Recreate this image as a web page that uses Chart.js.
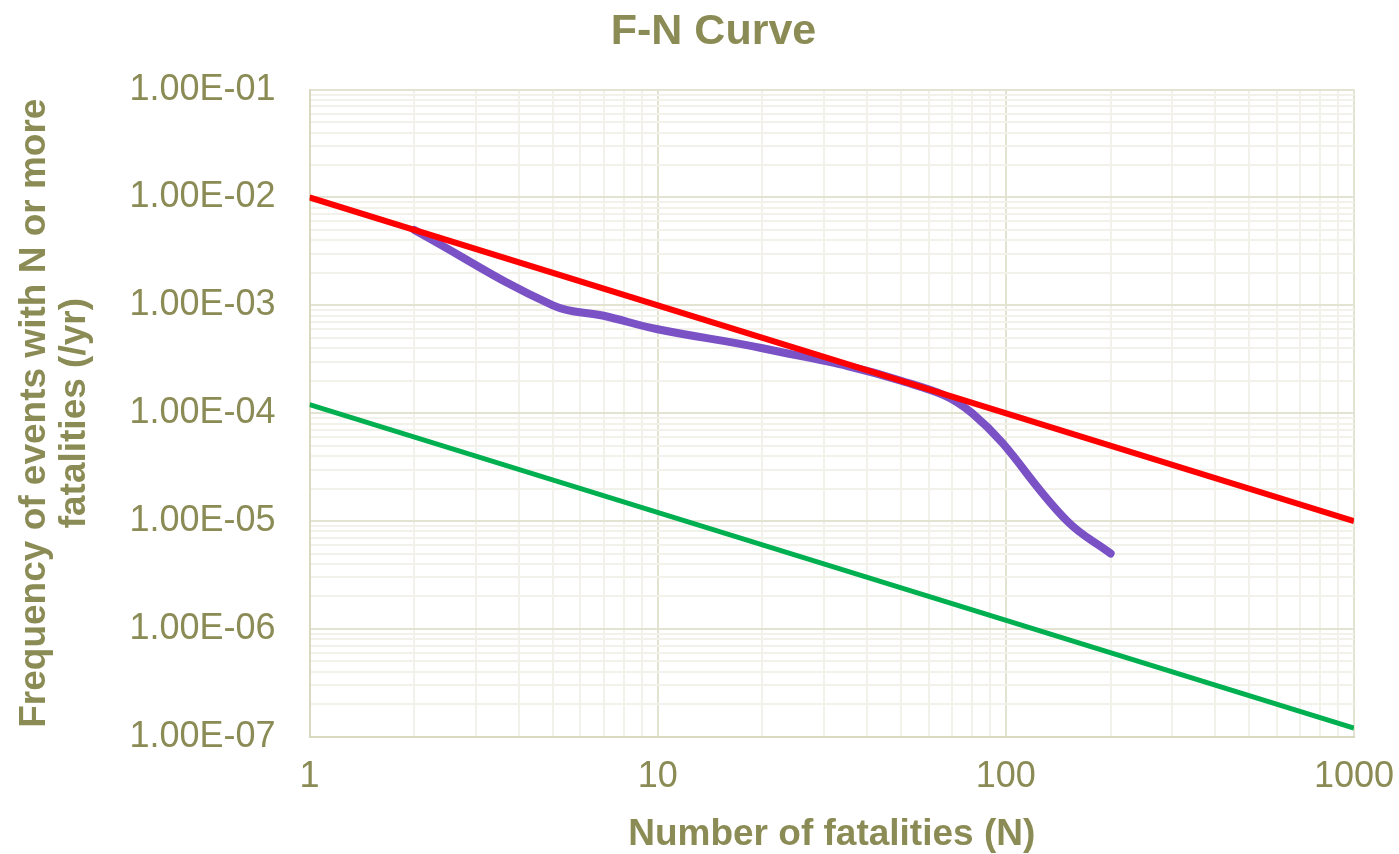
<!DOCTYPE html>
<html>
<head>
<meta charset="utf-8">
<title>F-N Curve</title>
<script src="https://cdn.jsdelivr.net/npm/chart.js@4.4.1/dist/chart.umd.min.js"></script>
<style>
    html, body { margin: 0; padding: 0; background: #fff; overflow: hidden; }
    #wrap { width: 1413px; height: 854px; position: relative; }
</style>
</head>
<body>
<div id="wrap"><canvas id="fnChart"></canvas></div>
<script>
// F-N curve (frequency of N or more fatalities per year)
const fnN    = [2, 5, 7, 10, 20, 50, 80, 150, 200];
const fnFreq = [5e-3, 1e-3, 8e-4, 6e-4, 4e-4, 2e-4, 1e-4, 1e-5, 5e-6];

// criterion lines
const limitN     = [1, 1000];
const upperLimit = [1e-2, 1e-5];
const lowerLimit = [1.2e-4, 1.2e-7];

// axis ticks
const xMajor = [1, 10, 100, 1000];
const xTickLabels = ['1', '10', '100', '1000'];
const yMajor = [1e-7, 1e-6, 1e-5, 1e-4, 1e-3, 1e-2, 1e-1];
const yTickLabels = ['1.00E-07', '1.00E-06', '1.00E-05', '1.00E-04', '1.00E-03', '1.00E-02', '1.00E-01'];

const TEXT = '#8b8b55';
const FONT = '"Liberation Sans", Arial, sans-serif';

function withMinors(majors) {
    const out = [];
    majors.forEach((m, i) => {
        out.push({ value: m, major: true });
        if (i < majors.length - 1) {
            for (let k = 2; k <= 9; k++) out.push({ value: +(m * k).toPrecision(3), major: false });
        }
    });
    return out;
}

function pts(xs, ys) {
    return xs.map((x, i) => ({ x: x, y: ys[i] }));
}

const gridColor = (c) => (c.tick && c.tick.major) ? '#e3e3d2' : '#f2f2ea';

new Chart(document.getElementById('fnChart'), {
    type: 'line',
    data: {
        datasets: [
            {
                label: 'Upper limit',
                data: pts(limitN, upperLimit),
                borderColor: '#ff0000',
                borderWidth: 6,
                pointRadius: 0,
                tension: 0
            },
            {
                label: 'Lower limit',
                data: pts(limitN, lowerLimit),
                borderColor: '#00b050',
                borderWidth: 5,
                pointRadius: 0,
                tension: 0
            },
            {
                label: 'F-N curve',
                data: pts(fnN, fnFreq),
                borderColor: '#7b52c6',
                borderWidth: 8,
                borderCapStyle: 'round',
                pointRadius: 0,
                tension: 0.4
            }
        ]
    },
    options: {
        responsive: true,
        maintainAspectRatio: false,
        animation: false,
        layout: { padding: { left: 14, right: 0, top: 0, bottom: 2 } },
        plugins: {
            legend: { display: false },
            tooltip: { enabled: false },
            title: {
                display: true,
                text: 'F-N Curve',
                color: TEXT,
                font: { family: FONT, size: 43, weight: 'bold' },
                padding: { top: 6, bottom: 32 }
            }
        },
        scales: {
            x: {
                type: 'logarithmic',
                min: 1,
                max: 1000,
                afterBuildTicks: (s) => { s.ticks = withMinors(xMajor); },
                ticks: {
                    autoSkip: false,
                    maxRotation: 0,
                    color: TEXT,
                    padding: 19,
                    font: { family: FONT, size: 36 },
                    callback: (v) => {
                        const i = xMajor.indexOf(v);
                        return i >= 0 ? xTickLabels[i] : '';
                    }
                },
                grid: { color: gridColor, lineWidth: 2, drawTicks: false },
                border: { color: '#d9d9bf', width: 2 },
                title: {
                    display: true,
                    text: 'Number of fatalities (N)',
                    color: TEXT,
                    font: { family: FONT, size: 37, weight: 'bold', lineHeight: 0.92 },
                    padding: { top: 0, bottom: 0 }
                }
            },
            y: {
                type: 'logarithmic',
                min: 1e-7,
                max: 1e-1,
                afterBuildTicks: (s) => { s.ticks = withMinors(yMajor); },
                ticks: {
                    autoSkip: false,
                    color: TEXT,
                    padding: 34,
                    font: { family: FONT, size: 36 },
                    callback: (v) => {
                        const i = yMajor.findIndex(m => Math.abs(m - v) / m < 1e-6);
                        return i >= 0 ? yTickLabels[i] : '';
                    }
                },
                grid: { color: gridColor, lineWidth: 2, drawTicks: false },
                border: { color: '#d9d9bf', width: 2 },
                title: {
                    display: true,
                    text: ['Frequency of events with N or more', 'fatalities (/yr)'],
                    color: TEXT,
                    font: { family: FONT, size: 37, weight: 'bold', lineHeight: 1.1 },
                    padding: { top: 0, bottom: 0 }
                }
            }
        }
    }
});
</script>
</body>
</html>
